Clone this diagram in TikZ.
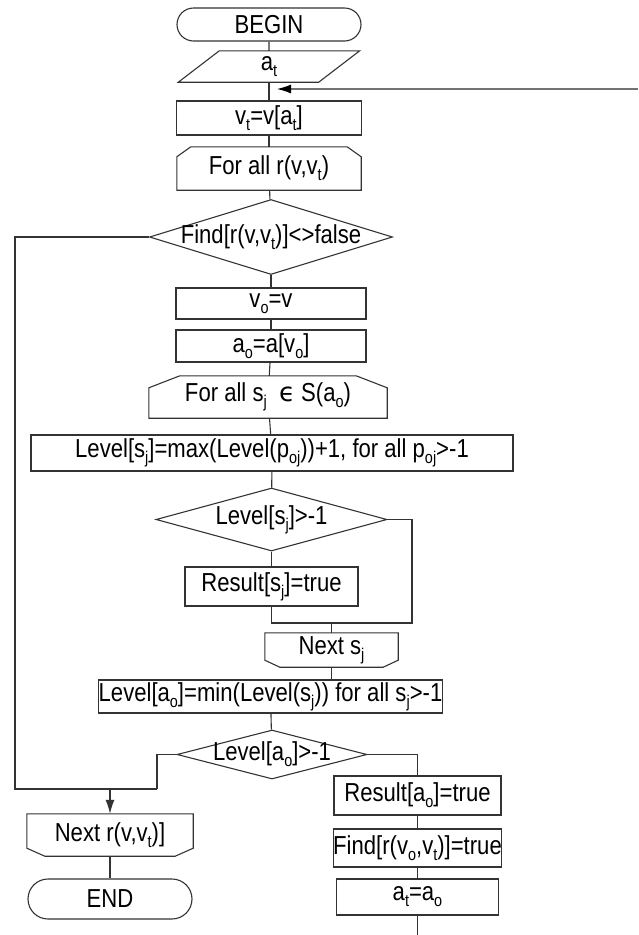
\documentclass[tikz,border=0pt]{standalone}
\usepackage{fontspec}
\setmainfont[FakeStretch=0.85]{Liberation Sans}
\newfontfamily\greekf{DejaVu Sans}
\usetikzlibrary{shapes.geometric,shapes.misc,arrows.meta}
\newcommand\ix[1]{\raisebox{-6pt}{\fontsize{17}{17}\selectfont #1}}

\begin{document}
\begin{tikzpicture}[
  x=1pt,y=-1pt,
  ln/.style={line width=1.1pt,draw=black!80},
  txt/.style={inner sep=0pt,font=\fontsize{26}{28}\selectfont},
  pbox/.style={rectangle,ln,txt},
  plain/.style={rectangle,txt},
  dec/.style={diamond,ln,txt,inner xsep=-25pt},
  term/.style={rounded rectangle,ln,txt},
  arr/.style={ln,-{Latex[length=14pt,width=9pt]}},
  back/.style={line width=1.1pt,draw=black!55}
]
\useasboundingbox (0,0) rectangle (638,935);

% main column
\node[term,minimum width=184pt,minimum height=33pt] (begin) at (269,24.5) {BEGIN};
\node[plain,minimum width=140pt,minimum height=31pt] (inp) at (269,66.5) {a\ix{t}};
\node[pbox,minimum width=185pt,minimum height=34pt] (vt) at (269,118) {v\ix{t}=v[a\ix{t}]};
\node[plain,minimum width=184pt,minimum height=43pt] (forr) at (269,168.5) {For all r(v,v\ix{t})};
\node[dec,minimum width=243pt,minimum height=75pt,aspect=3.24,inner xsep=-30pt] (findd) at (271,237) {Find[r(v,v\ix{t})]<>false};
\node[pbox,minimum width=190pt,minimum height=31pt] (vo) at (271,303.5) {v\ix{o}=v};
\node[pbox,minimum width=190pt,minimum height=32pt] (ao) at (271,346) {a\ix{o}=a[v\ix{o}]};
\node[plain,minimum width=238pt,minimum height=42pt] (fors) at (268,397) {For all s\ix{j}\ \ {\greekf ϵ} S(a\ix{o})};
\node[pbox,minimum width=482pt,minimum height=36pt] (lvlmax) at (272,453) {Level[s\ix{j}]=max(Level(p\ix{oj}))+1, for all p\ix{oj}>-1};
\node[dec,minimum width=231pt,minimum height=63pt,aspect=3.67] (lvls) at (271.5,519.5) {Level[s\ix{j}]>-1};
\node[pbox,minimum width=173pt,minimum height=39pt] (ress) at (271.5,586.5) {Result[s\ix{j}]=true};
\node[plain,minimum width=133pt,minimum height=34pt] (nexts) at (331.5,650) {Next s\ix{j}};
\node[pbox,minimum width=335pt,minimum height=33pt] (lvlmin) at (270.5,696.5) {Level[a\ix{o}]=min(Level(s\ix{j})) for all s\ix{j}>-1};
\node[dec,minimum width=190pt,minimum height=49pt,aspect=3.88] (lvla) at (272,754.5) {Level[a\ix{o}]>-1};

% left exit
\node[plain,minimum width=166pt,minimum height=42pt] (nextr) at (110,835) {Next r(v,v\ix{t})]};
\node[term,minimum width=164pt,minimum height=40pt] (endn) at (110,899) {END};

% right branch
\node[pbox,minimum width=167pt,minimum height=39pt] (resa) at (417.5,795.5) {Result[a\ix{o}]=true};
\node[pbox,minimum width=164pt,minimum height=38pt] (finda) at (417.5,848) {Find[r(v\ix{o},v\ix{t})]=true};
\node[pbox,minimum width=162pt,minimum height=36pt] (atao) at (417.5,897) {a\ix{t}=a\ix{o}};

% outlines of the special boxes
\draw[ln] ([xshift=20.5pt]inp.north west) -- ([xshift=20.5pt]inp.north east)
  -- ([xshift=-20.5pt]inp.south east) -- ([xshift=-20.5pt]inp.south west) -- cycle;
\foreach \n/\cx/\cy in {forr/14/10,fors/31/12}
  \draw[ln] (\n.south west) -- ([yshift=-\cy pt]\n.north west) -- ([xshift=\cx pt]\n.north west)
    -- ([xshift=-\cx pt]\n.north east) -- ([yshift=-\cy pt]\n.north east) -- (\n.south east) -- cycle;
\foreach \n/\cx/\cy in {nexts/15/7,nextr/18/8}
  \draw[ln] (\n.north west) -- (\n.north east) -- ([yshift=\cy pt]\n.south east)
    -- ([xshift=-\cx pt]\n.south east) -- ([xshift=\cx pt]\n.south west) -- ([yshift=\cy pt]\n.south west) -- cycle;

\coordinate (retin) at (638,89);
\coordinate (rs) at (412,623);
\coordinate (lp) at (15,789);
\coordinate (lq) at (157,789);
\coordinate (atend) at (417.5,935);

\draw[ln] (begin) -- (inp);
\draw[ln] (inp) -- (vt);
\draw[ln] (vt) -- (forr);
\draw[ln] (forr) -- (findd);
\draw[ln] (findd) -- (vo);
\draw[ln] (vo) -- (ao);
\draw[ln] (ao) -- (fors);
\draw[ln] (fors) -- (lvlmax);
\draw[ln] (lvlmax) -- (lvls);
\draw[ln] (lvls) -- (ress);
\draw[ln] (lvls.east) -| (rs) -- (ress.south |- rs) -- (ress.south);
\draw[ln] (nexts.north |- rs) -- (nexts.north);
\draw[ln] (nexts.south) -- (nexts.south |- lvlmin.north);
\draw[ln] (lvlmin) -- (lvla);
\draw[ln] (findd.west) -| (lp) -- (lq);
\draw[ln] (lvla.west) -| (lq);
\draw[arr] (nextr.north |- lq) -- (nextr.north);
\draw[ln] (nextr) -- (endn);
\draw[ln] (lvla.east) -| (resa.north);
\draw[ln] (resa) -- (finda);
\draw[ln] (finda) -- (atao);
\draw[ln] (atao) -- (atao.south |- atend);
\draw[back,-{Latex[length=14pt,width=9pt,color=black]}] (retin) -- ([xshift=8pt]inp.south |- retin);
\end{tikzpicture}
\end{document}
